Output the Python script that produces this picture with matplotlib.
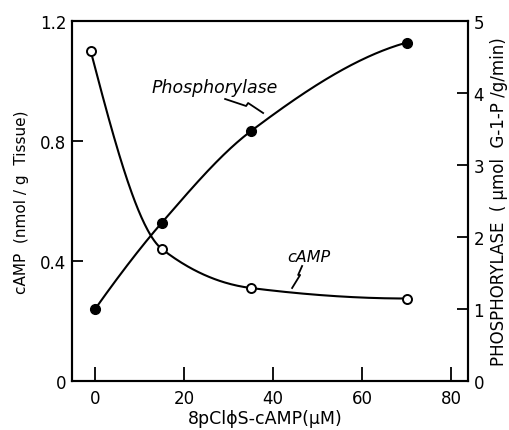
import numpy as np
import matplotlib
matplotlib.use("Agg")
import matplotlib.pyplot as plt

# ---- data ----
conc_camp = [-1, 15, 35, 70]
camp_values = [1.10, 0.44, 0.31, 0.275]
conc_phos = [0, 15, 35, 70]
phos_values = [1.0, 2.2, 3.47, 4.7]
x_ticks = [0, 20, 40, 60, 80]
left_ticks = [0, 0.4, 0.8, 1.2]
left_tick_labels = ["0", "0.4", "0.8", "1.2"]
right_ticks = [0, 1, 2, 3, 4, 5]


def pchip(x, y, xs):
    x = np.asarray(x, float); y = np.asarray(y, float)
    h = np.diff(x); d = np.diff(y) / h
    n = len(x); m = np.zeros(n)
    for k in range(1, n - 1):
        if d[k - 1] * d[k] <= 0:
            m[k] = 0
        else:
            w1 = 2 * h[k] + h[k - 1]; w2 = h[k] + 2 * h[k - 1]
            m[k] = (w1 + w2) / (w1 / d[k - 1] + w2 / d[k])
    def end(h0, h1, d0, d1):
        s = ((2 * h0 + h1) * d0 - h0 * d1) / (h0 + h1)
        if np.sign(s) != np.sign(d0):
            s = 0
        elif np.sign(d0) != np.sign(d1) and abs(s) > abs(3 * d0):
            s = 3 * d0
        return s
    m[0] = end(h[0], h[1], d[0], d[1])
    m[-1] = end(h[-1], h[-2], d[-1], d[-2])
    out = np.empty_like(xs)
    for i, xv in enumerate(xs):
        k = min(max(np.searchsorted(x, xv) - 1, 0), n - 2)
        t = (xv - x[k]) / h[k]
        h00 = 2 * t**3 - 3 * t**2 + 1
        h10 = t**3 - 2 * t**2 + t
        h01 = -2 * t**3 + 3 * t**2
        h11 = t**3 - t**2
        out[i] = h00 * y[k] + h10 * h[k] * m[k] + h01 * y[k + 1] + h11 * h[k] * m[k + 1]
    return out


plt.rcParams['font.family'] = ['DejaVu Sans']
fig = plt.figure(figsize=(5.09, 4.31), dpi=100)
ax = fig.add_axes([72 / 509, 49 / 431, 396 / 509, 360 / 431])
ax2 = ax.twinx()

ax.set_xlim(-5.2, 83.8)
ax.set_ylim(0, 1.2)
ax2.set_ylim(0, 5)

# cAMP curve (left axis)
xs_c = np.linspace(conc_camp[0], conc_camp[-1], 300)
ax.plot(xs_c, pchip(conc_camp, camp_values, xs_c), color='black', lw=1.5, zorder=2)
ax.plot(conc_camp, camp_values, 'o', ms=6.5, mfc='white', mec='black', mew=1.4, zorder=3)

# phosphorylase curve (right axis)
xs_p = np.linspace(conc_phos[0], conc_phos[-1], 300)
ax2.plot(xs_p, pchip(conc_phos, phos_values, xs_p), color='black', lw=1.5, zorder=2)
ax2.plot(conc_phos, phos_values, 'o', ms=7, mfc='black', mec='black', zorder=3)

for a in (ax, ax2):
    for s in a.spines.values():
        s.set_linewidth(1.5)

ax.set_xticks(x_ticks)
ax.set_xticklabels([str(v) for v in x_ticks])
ax.set_yticks(left_ticks)
ax.set_yticklabels(left_tick_labels)
ax2.set_yticks(right_ticks)
ax2.set_yticklabels([str(v) for v in right_ticks])
ax.tick_params(axis='x', direction='in', length=10, width=1.3, labelsize=12, pad=6)
ax.tick_params(axis='y', direction='in', length=8, width=1.3, labelsize=12, pad=4)
ax2.tick_params(axis='y', direction='in', length=8, width=1.3, labelsize=12, pad=4)

ax.set_xlabel("8pCl\u03d5S-cAMP(\u03bcM)", fontsize=12.5)
ax.xaxis.set_label_coords((265 - 72) / 396, (382 - 419) / 360)
ax.xaxis.label.set_va('center')
ax.set_ylabel("cAMP  (nmol / g  Tissue)", fontsize=11, labelpad=8)
ax2.set_ylabel("PHOSPHORYLASE  ( \u03bcmol  G-1-P /g/min)", fontsize=12, labelpad=4)


def px2d(px, py):
    return (px - 95) / 4.45, (382 - py) / 300


# annotations
ax.text(*px2d(215, 88), "Phosphorylase", fontsize=12.5, style='italic', ha='center', va='center')
lead1 = [px2d(*p) for p in [(225, 100), (246, 107), (248, 104), (263, 114)]]
ax.plot([p[0] for p in lead1], [p[1] for p in lead1], color='black', lw=1.3)
ax.text(*px2d(309, 258), "cAMP", fontsize=11.5, style='italic', ha='center', va='center')
lead2 = [px2d(*p) for p in [(302, 267), (298, 276), (300, 276), (292, 289)]]
ax.plot([p[0] for p in lead2], [p[1] for p in lead2], color='black', lw=1.3)

fig.savefig("out.png", dpi=100)
